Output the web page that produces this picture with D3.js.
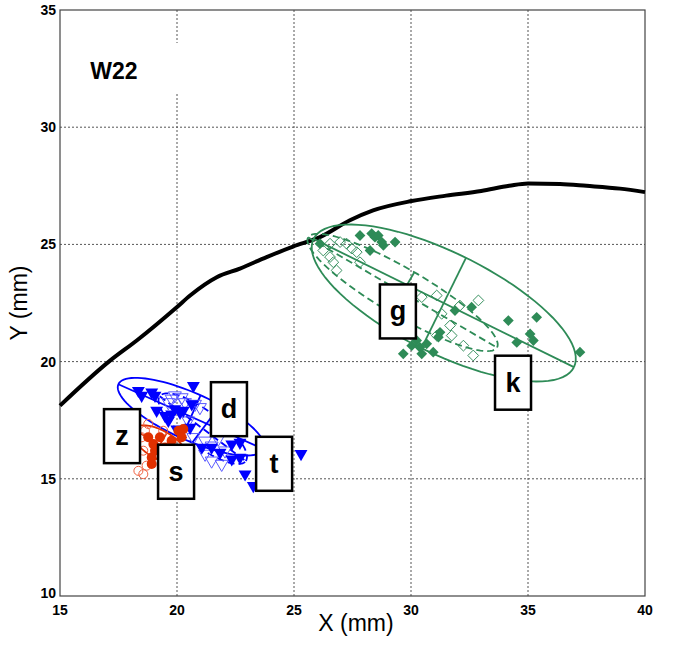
<!DOCTYPE html>
<html>
<head>
<meta charset="utf-8">
<script src="https://cdn.jsdelivr.net/npm/d3@7"></script>
<style>
  body { margin: 0; background: #fff; }
  text { font-family: Arial, "Liberation Sans", sans-serif; }
  .tick-label { font-family: "Liberation Sans Narrow", "Arial Narrow", Arial, sans-serif; font-weight: 700; }
</style>
</head>
<body>
<div id="chart"></div>
<script>
// ---- data (mm) ----
const xTicks = [15, 20, 25, 30, 35, 40];
const yTicks = [10, 15, 20, 25, 30, 35];

// black profile curve
const curveX = [15, 17.14, 18.28, 19.99, 20.56, 21.7, 22.69, 23.83, 24.96, 26.11, 27.39, 28.38, 30.03, 31.5, 33.0, 34.2, 35.0, 36.37, 37.5, 38.93, 40];
const curveY = [18.12, 20.04, 20.9, 22.32, 22.82, 23.6, 23.97, 24.46, 24.91, 25.31, 26.03, 26.45, 26.85, 27.08, 27.28, 27.5, 27.6, 27.58, 27.5, 27.38, 27.23];

// blue filled triangles (d)
const dX = [18.35, 18.92, 19.06, 18.49, 20.70, 19.13, 19.49, 19.63, 19.91, 20.13, 20.27, 19.77, 19.99, 20.56, 21.06, 21.48, 21.84, 22.34, 22.69, 22.34, 22.69, 22.91, 23.26, 20.63, 25.30];
const dY = [18.76, 18.69, 18.55, 18.55, 18.97, 17.91, 17.69, 17.48, 17.98, 17.83, 17.91, 17.76, 17.12, 17.19, 16.34, 16.34, 16.12, 15.84, 15.91, 16.48, 16.55, 15.20, 14.70, 18.19, 16.07];
// blue open triangles (t)
const tX = [19.91, 20.20, 19.63, 19.77, 20.34, 20.77, 20.98, 20.48, 21.20, 21.48, 21.76, 21.20, 21.48, 21.91, 22.05, 20.70];
const tY = [18.55, 18.47, 18.26, 18.41, 18.26, 18.19, 18.05, 17.48, 16.62, 16.41, 16.70, 16.06, 15.77, 15.63, 16.20, 16.77];
// red filled circles (z)
const zX = [18.77, 19.06, 18.92, 20.06, 20.27, 19.77, 19.49, 19.27, 18.99, 20.20, 18.92];
const zY = [16.77, 16.20, 15.91, 17.05, 17.12, 16.62, 16.34, 16.77, 16.48, 16.77, 15.63];
// red open circles (s)
const sX = [18.35, 18.56, 18.63, 18.49, 18.70, 18.56, 19.41, 18.77];
const sY = [15.34, 15.20, 17.05, 16.77, 15.56, 16.20, 17.05, 17.34];
// green filled diamonds (k)
const kX = [26.11, 27.82, 28.32, 28.46, 28.60, 28.82, 29.32, 28.25, 28.75, 31.88, 32.59, 34.16, 35.37, 34.52, 35.09, 35.23, 37.22, 29.67, 30.03, 30.38, 30.67, 30.46, 30.95, 31.24, 31.17, 30.24];
const kY = [25.03, 25.38, 25.46, 25.31, 25.38, 24.96, 25.10, 24.74, 25.10, 22.18, 22.32, 21.75, 21.89, 20.82, 21.18, 20.90, 20.40, 20.33, 20.68, 20.61, 20.76, 20.33, 20.40, 21.25, 21.04, 20.90];
// green open diamonds (g)
const gX = [26.54, 26.97, 27.25, 27.47, 27.68, 26.54, 26.68, 26.82, 26.25, 27.82, 31.10, 32.09, 32.88, 31.31, 31.67, 31.10, 31.74, 32.24, 32.66, 30.46];
const gY = [25.03, 25.10, 25.03, 24.82, 24.67, 24.46, 24.24, 23.89, 24.74, 24.24, 22.82, 22.39, 22.61, 22.04, 21.54, 21.11, 21.11, 20.68, 20.26, 22.75];

// ellipses: centre, semi axes (mm), tilt (deg)
const ellipseNames = ['k', 'g', 'd', 't', 'z'];
const ellipseCx = [31.4, 29.64, 20.6, 21.1, 19.27];
const ellipseCy = [22.5, 22.95, 17.65, 17.14, 16.45];
const ellipseA = [6.2, 4.67, 3.4, 2.3, 1.3];
const ellipseB = [2.15, 1.0, 1.0, 0.75, 0.6];
const ellipseAngle = [-26.2, -30.2, -24, -37, -30];

// label boxes
const labelText = ['g', 'k', 'd', 't', 'z', 's'];
const labelX = [29.44, 34.36, 22.22, 24.15, 17.65, 19.96];
const labelY = [22.14, 19.10, 17.97, 15.64, 16.82, 15.30];

// ---- layout ----
const width = 677, height = 661;
const margin = {top: 10, right: 32, bottom: 65, left: 60};
const green = '#2e8b57', blue = '#0000ff', red = '#e03000';
const ellipseStyle = {
  k: {color: green, dash: null},
  g: {color: green, dash: '7 4'},
  d: {color: blue, dash: null},
  t: {color: blue, dash: '7 4'},
  z: {color: red, dash: null}
};

const svg = d3.select('#chart').append('svg')
  .attr('width', width)
  .attr('height', height);

const xScale = d3.scaleLinear().domain([15, 40]).range([margin.left, width - margin.right]);
const yScale = d3.scaleLinear().domain([10, 35]).range([height - margin.bottom, margin.top]);

// grid
const grid = svg.append('g')
  .attr('stroke', '#555')
  .attr('stroke-width', 1)
  .attr('stroke-dasharray', '2 2');
grid.selectAll('.vg').data(xTicks.slice(1, -1)).join('line')
  .attr('x1', d => xScale(d)).attr('x2', d => xScale(d))
  .attr('y1', yScale(10)).attr('y2', yScale(35));
grid.selectAll('.hg').data(yTicks.slice(1, -1)).join('line')
  .attr('x1', xScale(15)).attr('x2', xScale(40))
  .attr('y1', d => yScale(d)).attr('y2', d => yScale(d));

// frame
svg.append('rect')
  .attr('x', xScale(15)).attr('y', yScale(35))
  .attr('width', xScale(40) - xScale(15))
  .attr('height', yScale(10) - yScale(35))
  .attr('fill', 'none')
  .attr('stroke', '#444')
  .attr('stroke-width', 1.2);

// white patch behind title
svg.append('rect')
  .attr('x', 75).attr('y', 43).attr('width', 106).attr('height', 49)
  .attr('fill', '#fff');
svg.append('text')
  .attr('x', 114).attr('y', 79)
  .attr('text-anchor', 'middle')
  .attr('font-size', 23)
  .attr('font-weight', 700)
  .text('W22');

// ticks
svg.append('g').selectAll('text').data(xTicks).join('text')
  .attr('class', 'tick-label')
  .attr('x', d => xScale(d))
  .attr('y', yScale(10) + 19)
  .attr('text-anchor', 'middle')
  .attr('font-size', 14)
  .text(d => d);
svg.append('g').selectAll('text').data(yTicks).join('text')
  .attr('class', 'tick-label')
  .attr('x', xScale(15) - 4)
  .attr('y', d => yScale(d) + (d === 10 ? 2 : 5))
  .attr('text-anchor', 'end')
  .attr('font-size', 14)
  .text(d => d);

svg.append('text')
  .attr('x', 356).attr('y', 631)
  .attr('text-anchor', 'middle')
  .attr('font-size', 23)
  .text('X (mm)');
svg.append('text')
  .attr('transform', 'translate(27, 303) rotate(-90)')
  .attr('text-anchor', 'middle')
  .attr('font-size', 23)
  .text('Y (mm)');

// black curve
const curveData = curveX.map((x, i) => [x, curveY[i]]);
svg.append('path')
  .datum(curveData)
  .attr('d', d3.line().x(d => xScale(d[0])).y(d => yScale(d[1])).curve(d3.curveMonotoneX))
  .attr('fill', 'none')
  .attr('stroke', '#000')
  .attr('stroke-width', 4);

// ellipses with their axes
const ellipses = ellipseNames.map((n, i) => ({
  name: n, cx: ellipseCx[i], cy: ellipseCy[i], a: ellipseA[i], b: ellipseB[i], ang: ellipseAngle[i] * Math.PI / 180
}));
const ellPoint = (e, u, v) => [
  e.cx + u * Math.cos(e.ang) - v * Math.sin(e.ang),
  e.cy + u * Math.sin(e.ang) + v * Math.cos(e.ang)
];
const lineGen = d3.line().x(d => xScale(d[0])).y(d => yScale(d[1]));
const ellG = svg.append('g').attr('fill', 'none').attr('stroke-width', 1.8);
ellipses.forEach(e => {
  const st = ellipseStyle[e.name];
  const pts = d3.range(0, 361, 4).map(t => {
    const r = t * Math.PI / 180;
    return ellPoint(e, e.a * Math.cos(r), e.b * Math.sin(r));
  });
  ellG.append('path').attr('d', lineGen(pts))
    .attr('stroke', st.color).attr('stroke-dasharray', st.dash);
  ellG.append('path').attr('d', lineGen([ellPoint(e, -e.a, 0), ellPoint(e, e.a, 0)]))
    .attr('stroke', st.color).attr('stroke-dasharray', st.dash);
  ellG.append('path').attr('d', lineGen([ellPoint(e, 0, -e.b), ellPoint(e, 0, e.b)]))
    .attr('stroke', st.color);
});

// markers
const tri = d3.symbol().type(d3.symbolTriangle).size(72);
const dia = d3.symbol().type(d3.symbolSquare).size(58);

svg.append('g').selectAll('path').data(tX.map((x, i) => [x, tY[i]])).join('path')
  .attr('d', tri)
  .attr('transform', d => `translate(${xScale(d[0])},${yScale(d[1])}) rotate(180)`)
  .attr('fill', 'none').attr('stroke', '#5a5aff').attr('stroke-width', 1);
svg.append('g').selectAll('path').data(dX.map((x, i) => [x, dY[i]])).join('path')
  .attr('d', tri)
  .attr('transform', d => `translate(${xScale(d[0])},${yScale(d[1])}) rotate(180)`)
  .attr('fill', blue);

svg.append('g').selectAll('circle').data(sX.map((x, i) => [x, sY[i]])).join('circle')
  .attr('cx', d => xScale(d[0])).attr('cy', d => yScale(d[1])).attr('r', 4.5)
  .attr('fill', 'none').attr('stroke', '#f06040').attr('stroke-width', 1);
svg.append('g').selectAll('circle').data(zX.map((x, i) => [x, zY[i]])).join('circle')
  .attr('cx', d => xScale(d[0])).attr('cy', d => yScale(d[1])).attr('r', 5)
  .attr('fill', red);

svg.append('g').selectAll('path').data(gX.map((x, i) => [x, gY[i]])).join('path')
  .attr('d', dia)
  .attr('transform', d => `translate(${xScale(d[0])},${yScale(d[1])}) rotate(45)`)
  .attr('fill', 'none').attr('stroke', green).attr('stroke-width', 0.9);
svg.append('g').selectAll('path').data(kX.map((x, i) => [x, kY[i]])).join('path')
  .attr('d', dia)
  .attr('transform', d => `translate(${xScale(d[0])},${yScale(d[1])}) rotate(45)`)
  .attr('fill', green);

// label boxes
const labels = svg.append('g').selectAll('g')
  .data(labelText.map((t, i) => ({t, x: labelX[i], y: labelY[i]})))
  .join('g')
  .attr('transform', d => `translate(${xScale(d.x)},${yScale(d.y)})`);
labels.append('rect')
  .attr('x', -18).attr('y', -27).attr('width', 36).attr('height', 54)
  .attr('fill', '#fff').attr('stroke', '#000').attr('stroke-width', 2.5);
labels.append('text')
  .attr('text-anchor', 'middle')
  .attr('y', 9)
  .attr('font-size', 27)
  .attr('font-weight', 700)
  .text(d => d.t);
</script>
</body>
</html>
